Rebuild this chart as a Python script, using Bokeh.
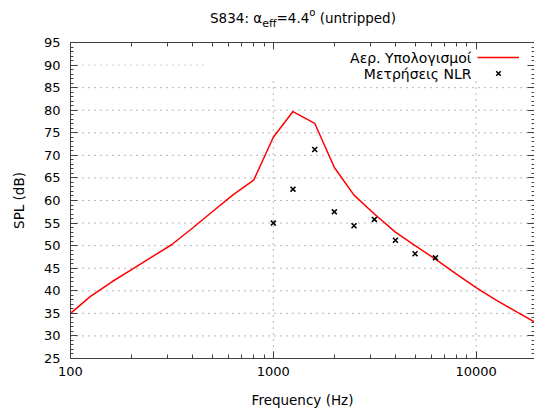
from bokeh.plotting import figure
from bokeh.layouts import column
from bokeh.models import (LogAxis, LinearAxis, FixedTicker, Label, Range1d,
                          Legend, LegendItem, NumeralTickFormatter, Div)
from bokeh.embed import file_html
from bokeh.resources import INLINE

# ---- data ----
freq_calc = [100, 125, 160, 200, 250, 315, 400, 500, 630, 800, 1000, 1250,
             1600, 2000, 2500, 3150, 4000, 5000, 6300, 8000, 10000, 12500,
             16000, 20000]
spl_calc = [35.0, 38.7, 42.0, 44.7, 47.4, 50.2, 53.9, 57.5, 61.2, 64.5, 74.0,
            79.7, 77.1, 67.3, 61.2, 57.0, 53.0, 50.0, 47.0, 43.7, 40.7, 38.0,
            35.2, 32.8]
freq_meas = [1000, 1250, 1600, 2000, 2500, 3150, 4000, 5000, 6300]
spl_meas = [55.0, 62.5, 71.3, 57.5, 54.4, 55.8, 51.2, 48.2, 47.3]

x_major = [100, 1000, 10000]
x_minor = [200, 300, 400, 500, 600, 700, 800, 900,
           2000, 3000, 4000, 5000, 6000, 7000, 8000, 9000, 20000]
y_major = [25, 30, 35, 40, 45, 50, 55, 60, 65, 70, 75, 80, 85, 90, 95]
y_minor = [26, 27, 28, 29, 31, 32, 33, 34, 36, 37, 38, 39, 41, 42, 43, 44,
           46, 47, 48, 49, 51, 52, 53, 54, 56, 57, 58, 59, 61, 62, 63, 64,
           66, 67, 68, 69, 71, 72, 73, 74, 76, 77, 78, 79, 81, 82, 83, 84,
           86, 87, 88, 89, 91, 92, 93, 94]
y_grid_full = [30, 35, 40, 45, 50, 55, 60, 65, 70, 75, 80, 85]
y_grid_key = [90]
x_grid = [1000, 10000]

label_calc = "Αερ. Υπολογισμοί"
label_meas = "Μετρήσεις NLR"
x_title = "Frequency (Hz)"
y_title = "SPL (dB)"

FONT = "DejaVu Sans"
FS_TICK = "13px"
FS_LAB = "13.5px"
FS_KEY = "14px"
AX = "#404040"
X_START, X_END = 100, 19400
Y_START, Y_END = 25, 95
KEY_X_LEFT = 455      # grid stops where the key box begins
KEY_Y_BOTTOM = 86.5

# ---- title (HTML so that sub/superscripts stay real text) ----
title_html = (
    '<div style="width:534px;box-sizing:border-box;padding-left:72px;'
    'padding-top:10px;text-align:center;font-family:\'DejaVu Sans\';'
    'font-size:13.5px;line-height:16px;color:black;white-space:nowrap;">'
    'S834: α<span style="font-size:11px;position:relative;top:4px;">eff</span>'
    '=4.4<span style="font-size:10px;position:relative;top:-7px;">o</span>'
    ' (untripped)</div>'
)
title = Div(text=title_html, width=534, height=30, margin=0)

p = figure(width=534, height=384, x_axis_type="log",
           x_range=Range1d(X_START, X_END), y_range=Range1d(Y_START, Y_END),
           output_backend="svg", toolbar_location=None,
           min_border_left=70, min_border_right=0,
           min_border_top=12, min_border_bottom=56, margin=0)
p.outline_line_color = None
p.background_fill_color = "white"
p.border_fill_color = "white"
for g in list(p.xgrid) + list(p.ygrid):
    g.visible = False


def style_axis(ax, major_in, minor_in):
    ax.axis_line_color = AX
    ax.major_tick_line_color = AX
    ax.minor_tick_line_color = AX
    ax.major_tick_in = major_in
    ax.major_tick_out = 0
    ax.minor_tick_in = minor_in
    ax.minor_tick_out = 0
    ax.major_label_text_font = FONT
    ax.major_label_text_font_size = FS_TICK
    ax.major_label_text_color = "black"
    ax.axis_label_text_font = FONT
    ax.axis_label_text_font_size = FS_LAB
    ax.axis_label_text_font_style = "normal"
    ax.axis_label_text_color = "black"


xa = p.xaxis[0]
xa.ticker = FixedTicker(ticks=x_major, minor_ticks=x_minor)
xa.formatter = NumeralTickFormatter(format="0")
style_axis(xa, 7, 4)
xa.axis_label = x_title
xa.major_label_standoff = 8
xa.axis_label_standoff = 13

ya = p.yaxis[0]
ya.ticker = FixedTicker(ticks=y_major, minor_ticks=y_minor)
style_axis(ya, 7, 3)
ya.axis_label = y_title
ya.major_label_standoff = 10
ya.axis_label_standoff = 14

top = LogAxis(ticker=FixedTicker(ticks=x_major, minor_ticks=x_minor))
style_axis(top, 7, 4)
top.major_label_overrides = {t: "" for t in x_major}
top.major_label_standoff = 0
p.add_layout(top, "above")

right = LinearAxis(ticker=FixedTicker(ticks=y_major, minor_ticks=y_minor))
style_axis(right, 7, 3)
right.axis_line_color = None
right.major_label_overrides = {t: "" for t in y_major}
right.major_label_standoff = 0
p.add_layout(right, "right")

# ---- dotted grid lines at the tick values (kept clear of the key box) ----
DOT = dict(line_dash="1 5", line_width=1)
p.segment(x0=[X_START] * len(y_grid_full), x1=[X_END] * len(y_grid_full),
          y0=y_grid_full, y1=y_grid_full, line_color="#707070", **DOT)
p.segment(x0=[X_START] * len(y_grid_key), x1=[KEY_X_LEFT] * len(y_grid_key),
          y0=y_grid_key, y1=y_grid_key, line_color="#a0a0a0", **DOT)
p.segment(x0=x_grid, x1=x_grid, y0=[Y_START] * len(x_grid),
          y1=[KEY_Y_BOTTOM] * len(x_grid), line_color="#707070", **DOT)

r_calc = p.line(freq_calc, spl_calc, line_color="red", line_width=1.5)
r_meas = p.scatter(freq_meas, spl_meas, marker="x", size=7,
                   line_color="black", line_width=1.6)

# ---- key: text right-aligned, sample to its right (gnuplot style) ----
key = Legend(items=[LegendItem(label=" ", renderers=[r_calc]),
                    LegendItem(label=" ", renderers=[r_meas])],
             location=(407, 277), glyph_width=42, glyph_height=16,
             spacing=0, padding=0, margin=0, label_standoff=0,
             label_text_font_size="13px", label_height=16, label_width=0,
             background_fill_alpha=0, border_line_color=None)
p.add_layout(key, "center")

TL = dict(x_units="screen", y_units="screen", text_font=FONT,
          text_color="black", text_align="right", text_baseline="middle",
          text_font_size=FS_KEY)
p.add_layout(Label(x=401, y=301, text=label_calc, **TL))
p.add_layout(Label(x=401, y=285, text=label_meas, **TL))

page = column(title, p, spacing=0)
open("out.html", "w").write(file_html(page, INLINE))
